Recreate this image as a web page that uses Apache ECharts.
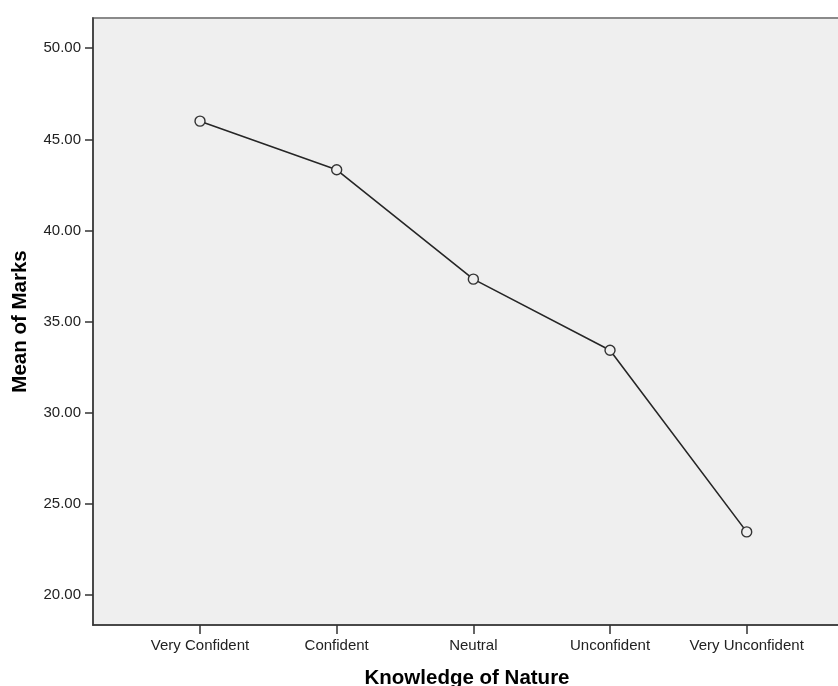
<!DOCTYPE html>
<html>
<head>
<meta charset="utf-8">
<script src="https://cdn.jsdelivr.net/npm/echarts@6/dist/echarts.min.js"></script>
<style>html,body{margin:0;padding:0;background:#fff}#c{width:838px;height:686px}</style>
</head>
<body>
<div id="c"></div>
<script>
const categories = ["Very Confident", "Confident", "Neutral", "Unconfident", "Very Unconfident"];
const meanMarks = [46.0, 43.33, 37.33, 33.43, 23.46];
const yTicks = [20, 25, 30, 35, 40, 45, 50];

const chart = echarts.init(document.getElementById('c'));
const seriesData = meanMarks.map((v, i) => [i, v]);
const catIdx = categories.map((c, i) => i);
const font = '"Liberation Sans", Arial, sans-serif';

chart.setOption({
  animation: false,
  grid: {
    left: 93, top: 18, right: -3, bottom: 61,
    outerBoundsMode: 'none', containLabel: false,
    show: true, backgroundColor: '#efefef', borderColor: '#8a8a8a', borderWidth: 2
  },
  xAxis: {
    type: 'value', min: -0.783, max: 4.69,
    name: 'Knowledge of Nature', nameLocation: 'middle', nameGap: 43,
    nameTextStyle: { fontFamily: font, fontWeight: 'bold', fontSize: 20.5, color: '#000' },
    axisLine: { show: true, onZero: false, lineStyle: { color: '#333', width: 1.5 } },
    axisTick: { show: true, length: 9, customValues: catIdx, lineStyle: { color: '#333', width: 1.5 } },
    axisLabel: { customValues: catIdx, formatter: v => categories[Math.round(v)] || '', fontFamily: font, fontSize: 15, color: '#222', margin: 13 },
    splitLine: { show: false }
  },
  yAxis: {
    type: 'value', min: 18.35, max: 51.66,
    name: 'Mean of Marks', nameLocation: 'middle', nameGap: 62, nameRotate: 90,
    nameTextStyle: { fontFamily: font, fontWeight: 'bold', fontSize: 20.5, color: '#000' },
    axisLine: { show: true, onZero: false, lineStyle: { color: '#333', width: 1.5 } },
    axisTick: { show: true, length: 8, customValues: yTicks, lineStyle: { color: '#333', width: 1.5 } },
    axisLabel: { customValues: yTicks, formatter: v => v.toFixed(2), fontFamily: font, fontSize: 15, color: '#222', margin: 12 },
    splitLine: { show: false }
  },
  series: [{
    type: 'line',
    data: seriesData,
    symbol: 'circle', symbolSize: 10,
    itemStyle: { color: '#efefef', borderColor: '#333', borderWidth: 1.4 },
    lineStyle: { color: '#262626', width: 1.6 }
  }]
});
</script>
</body>
</html>
